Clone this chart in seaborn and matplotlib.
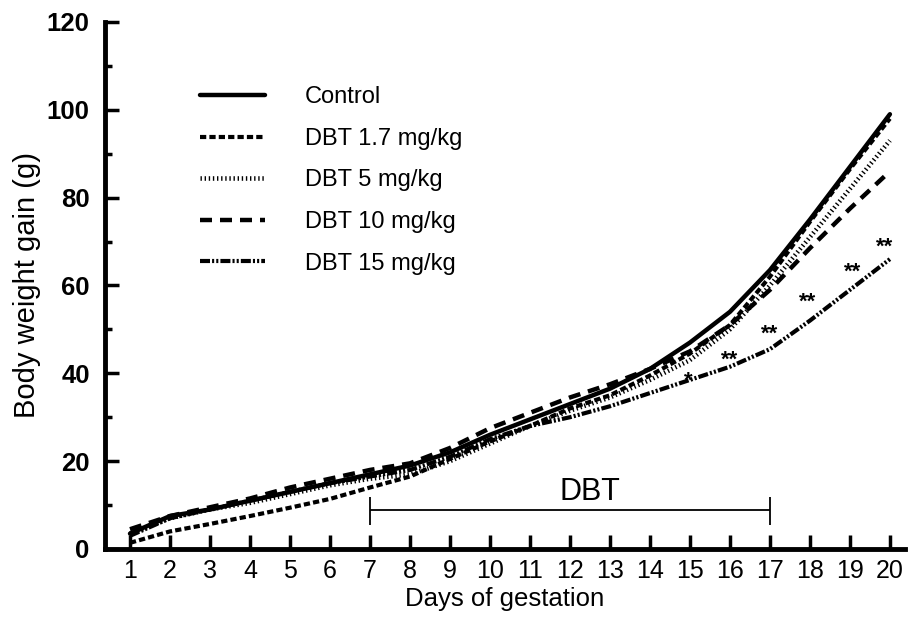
import seaborn as sns
import pandas as pd
import matplotlib.pyplot as plt
import numpy as np

# data
days = list(range(1, 21))
groups = ['Control', 'DBT 1.7 mg/kg', 'DBT 5 mg/kg', 'DBT 10 mg/kg', 'DBT 15 mg/kg']

control = [3.5, 7.5, 9.0, 11.0, 13.0, 15.0, 17.0, 19.0, 22.0, 26.0,
           29.5, 33.0, 36.5, 41.0, 47.0, 54.0, 63.5, 75.0, 87.0, 99.0]
dbt_1_7 = [1.4, 4.0, 5.7, 7.5, 9.4, 11.4, 14.0, 16.5, 20.5, 24.5,
           28.0, 32.0, 35.0, 39.5, 44.5, 51.0, 62.0, 74.5, 86.5, 98.0]
dbt_5 = [3.5, 7.0, 9.0, 10.5, 12.5, 14.5, 16.0, 17.0, 20.0, 24.0,
         28.0, 31.5, 34.5, 38.5, 43.0, 50.0, 60.0, 71.0, 82.0, 93.0]
dbt_10 = [4.5, 7.5, 9.5, 11.5, 14.0, 16.0, 18.0, 19.5, 23.0, 27.5,
          31.0, 34.5, 37.5, 41.0, 45.0, 51.0, 59.0, 68.5, 77.5, 86.0]
dbt_15 = [3.0, 7.0, 9.0, 11.0, 13.0, 15.0, 16.5, 18.0, 21.0, 25.0,
          28.0, 30.0, 32.5, 35.5, 38.5, 41.5, 45.5, 52.0, 59.0, 66.0]

star_days = [15, 16, 17, 18, 19, 20]
star_labels = ['*', '**', '**', '**', '**', '**']
dbt_start, dbt_end = 7, 17

df = pd.DataFrame({
    'Day': days * 5,
    'Gain': control + dbt_1_7 + dbt_5 + dbt_10 + dbt_15,
    'Group': np.repeat(groups, len(days)),
})

sns.set_theme(style='ticks')
plt.rcParams['font.family'] = ['Liberation Sans', 'DejaVu Sans']
plt.rcParams.update({'text.color': 'black', 'axes.labelcolor': 'black',
                     'xtick.color': 'black', 'ytick.color': 'black'})

fig = plt.figure(figsize=(9.09, 6.23), dpi=100)
ax = fig.add_axes([0.1155, 0.1188, 0.880, 0.8459])

dashes = {'Control': '',
          'DBT 1.7 mg/kg': (1.5, 0.75),
          'DBT 5 mg/kg': (0.3, 0.6),
          'DBT 10 mg/kg': (2.7, 1.8),
          'DBT 15 mg/kg': (2.4, 0.5, 0.5, 0.5, 0.5, 0.5)}
sns.lineplot(data=df, x='Day', y='Gain', hue='Group', style='Group',
             hue_order=groups, style_order=groups,
             palette=['black'] * 5, dashes=dashes, legend=False, ax=ax)

widths = [3.2, 3.0, 3.3, 3.2, 3.0]
for line, w in zip(ax.lines, widths):
    line.set_linewidth(w)

ax.legend(ax.lines[:5], groups, loc='upper left', bbox_to_anchor=(0.119, 0.878),
          frameon=False, fontsize=17, handlelength=2.75, handletextpad=1.7,
          labelspacing=0.83, borderpad=0, borderaxespad=0)

# significance marks on the 15 mg/kg line
star_dx = [-1.4, 0, 0, -1.4, 2.2, -3.6]
star_dy = [-5.0, 0.7, 6.5, 9.4, 8.6, 4.3]
for d, lab, dx, dy in zip(star_days, star_labels, star_dx, star_dy):
    ax.annotate(lab, xy=(d, dbt_15[days.index(d)]), xytext=(dx, dy),
                textcoords='offset points', ha='center', va='baseline',
                fontsize=16, fontweight='bold')

# dosing period bracket
ax.hlines(8.9, dbt_start, dbt_end, color='black', lw=1.3)
ax.vlines([dbt_start, dbt_end], 5.5, 11.8, color='black', lw=1.3)
ax.text((dbt_start + dbt_end) / 2 + 0.5, 11.2, 'DBT', ha='center', va='baseline',
        fontsize=22)

ax.set_xlim(0.375, 20.375)
ax.set_ylim(0, 120)
ax.set_xticks(days)
ax.set_yticks(range(0, 121, 20))
ax.set_yticks(range(10, 120, 20), minor=True)
ax.tick_params(axis='both', which='major', direction='in', length=10, width=2.5,
               color='black')
ax.tick_params(axis='y', which='minor', direction='in', length=5, width=2.5,
               color='black')
ax.tick_params(axis='x', labelsize=18, pad=7)
ax.tick_params(axis='y', labelsize=18.5, pad=11)
for lab in ax.get_yticklabels():
    lab.set_fontweight('bold')

ax.set_xlabel('Days of gestation', fontsize=18.5, labelpad=3)
ax.set_ylabel('Body weight gain (g)', fontsize=21, labelpad=4)

sns.despine(ax=ax)
for side in ['left', 'bottom']:
    ax.spines[side].set_linewidth(3.5)
    ax.spines[side].set_color('black')

fig.savefig('out.png', dpi=100)
